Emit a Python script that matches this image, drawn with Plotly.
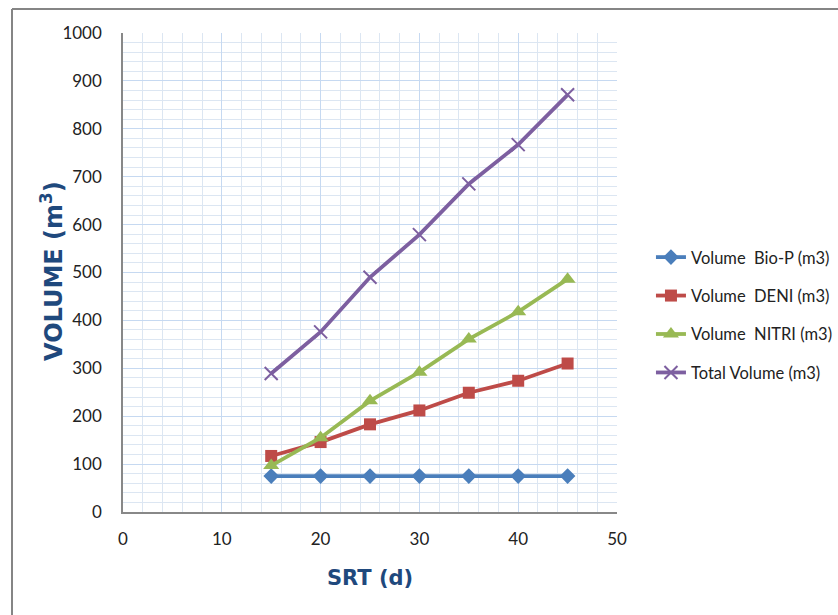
import plotly.graph_objects as go

# Sludge retention time (days) and reactor volumes (m3)
srt = [15, 20, 25, 30, 35, 40, 45]
vol_biop = [75, 75, 75, 75, 75, 75, 75]
vol_deni = [117, 146, 183, 212, 249, 274, 310]
vol_nitri = [97, 155, 232, 292, 361, 418, 486]
vol_total = [289, 376, 490, 579, 685, 767, 871]

series = [
    ("Volume  Bio-P (m3)", vol_biop, "#4A7EBB", "diamond", 12, 0),
    ("Volume  DENI (m3)", vol_deni, "#BE4B48", "square", 12, 0),
    ("Volume  NITRI (m3)", vol_nitri, "#98B954", "triangle-up", 14, 0),
    ("Total Volume (m3)", vol_total, "#7D5FA0", "x-thin", 13, 2),
]

fig = go.Figure()
for i, (name, ys, color, sym, size, lw) in enumerate(series):
    fig.add_trace(go.Scatter(
        x=srt, y=ys, name=name, mode="lines+markers", legendgroup=f"g{i}",
        line=dict(color=color, width=3.8),
        marker=dict(symbol=sym, size=size, color=color,
                    line=dict(color=color, width=lw)),
    ))

title_font = dict(family="DejaVu Sans", size=21, color="#1F497D")
ytitle_font = dict(family="DejaVu Sans", size=24, color="#1F497D")
tick_font = dict(family="Lato", size=17, color="#222222")

L, R, T, B = 123, 221, 33, 103
pw, ph = 838 - L - R, 615 - T - B

fig.update_layout(
    width=838, height=615,
    margin=dict(l=L, r=R, t=T, b=B, autoexpand=False),
    paper_bgcolor="white", plot_bgcolor="white",
    showlegend=True,
    legend=dict(xref="container", yref="container", x=0.7768, y=0.488,
                xanchor="left", yanchor="middle",
                font=dict(family="Lato", size=16.5, color="#222222"),
                tracegroupgap=14, traceorder="grouped"),
    xaxis=dict(
        range=[0, 50], dtick=10, showline=True, linecolor="#888888", linewidth=1.5,
        showgrid=True, gridcolor="#C6D9F1", gridwidth=1,
        minor=dict(dtick=2, showgrid=True, gridcolor="#DCE6F2", gridwidth=1),
        tickfont=tick_font, ticks="", zeroline=False, ticklabelstandoff=11,
        title=dict(text="<b>SRT (d)</b>", font=title_font, standoff=22),
    ),
    yaxis=dict(
        range=[0, 1000], dtick=100, showline=True, linecolor="#888888", linewidth=1.5,
        showgrid=True, gridcolor="#C6D9F1", gridwidth=1,
        minor=dict(dtick=20, showgrid=True, gridcolor="#DCE6F2", gridwidth=1),
        tickfont=tick_font, ticks="", zeroline=False, ticklabelstandoff=16,
    ),
)

# Y-axis title
fig.add_annotation(text="<b>VOLUME (m<sup>3</sup>)</b>", font=ytitle_font, textangle=-90,
                   xref="paper", yref="paper", x=(52 - L) / pw, y=(512 - 271) / ph,
                   xanchor="center", yanchor="middle", showarrow=False)

# Chart-area frame (top and left edges)
fx0 = (12 - L) / pw
fy1 = (512 - 9) / ph
fig.add_shape(type="line", xref="paper", yref="paper", x0=fx0, x1=(838 - L) / pw,
              y0=fy1, y1=fy1, line=dict(color="#858585", width=2))
fig.add_shape(type="line", xref="paper", yref="paper", x0=fx0, x1=fx0,
              y0=fy1, y1=-(615 - 512) / ph, line=dict(color="#858585", width=2))

fig.write_html("out.html")
